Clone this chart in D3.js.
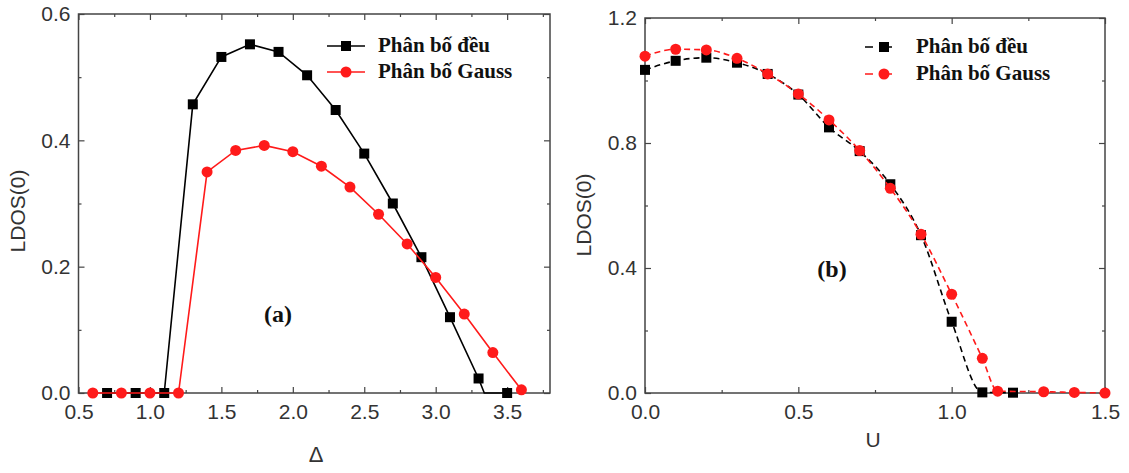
<!DOCTYPE html>
<html>
<head>
<meta charset="utf-8">
<script src="https://cdn.jsdelivr.net/npm/d3@7"></script>
<style>
  body { margin: 0; background: #fff; }
  svg { display: block; }
  .tick text { font-family: Arial, "Liberation Sans", sans-serif; font-size: 21px; fill: #333; }
  .axis path, .axis line { stroke: #444; }
  .axisText { font-family: Arial, "Liberation Sans", sans-serif; font-size: 21px; fill: #333; }
  .legendText { font-family: "Liberation Serif", "Times New Roman", serif; font-weight: bold; font-size: 21px; fill: #111; }
</style>
</head>
<body>
<div id="chart"></div>
<script>
// panel (a): LDOS(0) vs Delta
var deltaUniform = [0.7, 0.9, 1.1, 1.3, 1.5, 1.7, 1.9, 2.1, 2.3, 2.5, 2.7, 2.9, 3.1, 3.3, 3.34, 3.5];
var ldosUniformA = [0, 0, 0, 0.457, 0.532, 0.552, 0.540, 0.503, 0.448, 0.379, 0.300, 0.215, 0.120, 0.023, 0.0, 0.0];
var uniformMarkersA = [true, true, true, true, true, true, true, true, true, true, true, true, true, true, false, true];

var deltaGauss = [0.6, 0.8, 1.0, 1.2, 1.4, 1.6, 1.8, 2.0, 2.2, 2.4, 2.6, 2.8, 3.0, 3.2, 3.4, 3.6];
var ldosGaussA = [0, 0, 0, 0, 0.350, 0.384, 0.392, 0.382, 0.359, 0.326, 0.283, 0.236, 0.183, 0.125, 0.064, 0.005];

// panel (b): LDOS(0) vs U
var uUniform = [0.0, 0.1, 0.2, 0.3, 0.4, 0.5, 0.6, 0.7, 0.8, 0.9, 1.0, 1.1, 1.2];
var ldosUniformB = [1.034, 1.063, 1.073, 1.057, 1.021, 0.955, 0.850, 0.774, 0.668, 0.505, 0.228, 0.002, 0.001];

var uGauss = [0.0, 0.1, 0.2, 0.3, 0.4, 0.5, 0.6, 0.7, 0.8, 0.9, 1.0, 1.1, 1.15, 1.3, 1.4, 1.5];
var ldosGaussB = [1.078, 1.100, 1.098, 1.071, 1.021, 0.957, 0.874, 0.776, 0.655, 0.508, 0.316, 0.111, 0.006, 0.004, 0.002, 0.0];

var legendLabels = ["Phân bố đều", "Phân bố Gauss"];

var xTicksA = [0.5, 1.0, 1.5, 2.0, 2.5, 3.0, 3.5];
var xMinorA = [0.75, 1.25, 1.75, 2.25, 2.75, 3.25, 3.75];
var yTicksA = [0.0, 0.2, 0.4, 0.6];
var yMinorA = [0.1, 0.3, 0.5];

var xTicksB = [0.0, 0.5, 1.0, 1.5];
var xMinorB = [0.25, 0.75, 1.25];
var yTicksB = [0.0, 0.4, 0.8, 1.2];
var yMinorB = [0.2, 0.6, 1.0];

var svgWidth = 1129;
var svgHeight = 473;

var svg = d3.select("#chart")
    .append("svg")
    .attr("width", svgWidth)
    .attr("height", svgHeight);

function drawPanel(p) {
    var x = d3.scaleLinear().domain(p.xDomain).range([p.left, p.right]);
    var y = d3.scaleLinear().domain(p.yDomain).range([p.bottom, p.top]);
    var g = svg.append("g");

    // major + minor ticks on all four sides, pointing inward
    g.append("g").attr("class", "axis")
        .attr("transform", `translate(0,${p.bottom})`)
        .call(d3.axisBottom(x).tickValues(p.xTicks).tickFormat(d3.format(".1f"))
            .tickSizeInner(-6).tickSizeOuter(0).tickPadding(11));
    g.append("g").attr("class", "axis")
        .attr("transform", `translate(0,${p.bottom})`)
        .call(d3.axisBottom(x).tickValues(p.xMinor).tickFormat("").tickSizeInner(-3).tickSizeOuter(0));
    g.append("g").attr("class", "axis")
        .attr("transform", `translate(0,${p.top})`)
        .call(d3.axisTop(x).tickValues(p.xTicks).tickFormat("").tickSizeInner(-6).tickSizeOuter(0));
    g.append("g").attr("class", "axis")
        .attr("transform", `translate(0,${p.top})`)
        .call(d3.axisTop(x).tickValues(p.xMinor).tickFormat("").tickSizeInner(-3).tickSizeOuter(0));

    g.append("g").attr("class", "axis")
        .attr("transform", `translate(${p.left},0)`)
        .call(d3.axisLeft(y).tickValues(p.yTicks).tickFormat(d3.format(".1f"))
            .tickSizeInner(-6).tickSizeOuter(0).tickPadding(8));
    g.append("g").attr("class", "axis")
        .attr("transform", `translate(${p.left},0)`)
        .call(d3.axisLeft(y).tickValues(p.yMinor).tickFormat("").tickSizeInner(-3).tickSizeOuter(0));
    g.append("g").attr("class", "axis")
        .attr("transform", `translate(${p.right},0)`)
        .call(d3.axisRight(y).tickValues(p.yTicks).tickFormat("").tickSizeInner(-6).tickSizeOuter(0));
    g.append("g").attr("class", "axis")
        .attr("transform", `translate(${p.right},0)`)
        .call(d3.axisRight(y).tickValues(p.yMinor).tickFormat("").tickSizeInner(-3).tickSizeOuter(0));

    g.selectAll(".axis .domain").remove();
    g.selectAll(".axis line").attr("stroke-width", 1.2);

    // frame
    g.append("rect")
        .attr("x", p.left).attr("y", p.top)
        .attr("width", p.right - p.left).attr("height", p.bottom - p.top)
        .attr("fill", "none").attr("stroke", "#444").attr("stroke-width", 1.5);

    var line = d3.line()
        .x(d => x(d[0]))
        .y(d => y(d[1]))
        .curve(p.curve);

    p.series.forEach(function(s) {
        var pts = d3.zip(s.xs, s.ys);
        g.append("path")
            .datum(pts)
            .attr("fill", "none")
            .attr("stroke", s.color)
            .attr("stroke-width", 1.6)
            .attr("stroke-dasharray", p.dash)
            .attr("d", line);

        var marked = pts.filter((d, i) => !s.markers || s.markers[i]);
        if (s.shape === "square") {
            g.selectAll(null).data(marked).enter().append("rect")
                .attr("x", d => x(d[0]) - 5)
                .attr("y", d => y(d[1]) - 5)
                .attr("width", 10).attr("height", 10)
                .attr("fill", s.color);
        } else {
            g.selectAll(null).data(marked).enter().append("circle")
                .attr("cx", d => x(d[0]))
                .attr("cy", d => y(d[1]))
                .attr("r", 5.5)
                .attr("fill", s.color);
        }
    });

    // legend
    p.series.forEach(function(s, i) {
        var ly = p.legendY + i * p.legendGap;
        g.append("line")
            .attr("x1", p.legendX - 19).attr("x2", p.legendX + 19)
            .attr("y1", ly).attr("y2", ly)
            .attr("stroke", s.color).attr("stroke-width", 1.6)
            .attr("stroke-dasharray", p.legendDash);
        if (s.shape === "square") {
            g.append("rect").attr("x", p.legendX - 5).attr("y", ly - 5)
                .attr("width", 10).attr("height", 10).attr("fill", s.color);
        } else {
            g.append("circle").attr("cx", p.legendX).attr("cy", ly).attr("r", 5.5).attr("fill", s.color);
        }
        g.append("text")
            .attr("class", "legendText")
            .attr("x", p.legendX + 32)
            .attr("y", ly + 6)
            .text(legendLabels[i]);
    });

    g.append("text")
        .attr("class", "legendText")
        .style("font-size", "24px")
        .attr("x", p.tagX).attr("y", p.tagY)
        .attr("text-anchor", "middle")
        .text(p.tag);

    g.append("text")
        .attr("class", "axisText")
        .attr("transform", `translate(${p.yLabelX},${p.yLabelY}) rotate(-90)`)
        .attr("text-anchor", "middle")
        .text("LDOS(0)");

    g.append("text")
        .attr("class", "axisText")
        .style("font-size", p.xLabelSize)
        .attr("x", p.xLabelX)
        .attr("y", p.xLabelY)
        .attr("text-anchor", "middle")
        .text(p.xLabel);
}

drawPanel({
    left: 78.5, right: 550, top: 14, bottom: 393,
    xDomain: [0.5, 3.8], yDomain: [0, 0.6],
    xTicks: xTicksA, xMinor: xMinorA, yTicks: yTicksA, yMinor: yMinorA,
    curve: d3.curveLinear, dash: null, legendDash: null,
    series: [
        { xs: deltaUniform, ys: ldosUniformA, color: "#000", shape: "square", markers: uniformMarkersA },
        { xs: deltaGauss, ys: ldosGaussA, color: "#ff1a1a", shape: "circle" }
    ],
    legendX: 346, legendY: 46, legendGap: 26,
    tag: "(a)", tagX: 278, tagY: 322,
    yLabelX: 25, yLabelY: 211, xLabel: "Δ", xLabelX: 316, xLabelY: 462, xLabelSize: "22px"
});

drawPanel({
    left: 645, right: 1105, top: 18, bottom: 393,
    xDomain: [0, 1.5], yDomain: [0, 1.2],
    xTicks: xTicksB, xMinor: xMinorB, yTicks: yTicksB, yMinor: yMinorB,
    curve: d3.curveMonotoneX, dash: "6,4", legendDash: "8,11",
    series: [
        { xs: uUniform, ys: ldosUniformB, color: "#000", shape: "square" },
        { xs: uGauss, ys: ldosGaussB, color: "#ff1a1a", shape: "circle" }
    ],
    legendX: 884, legendY: 47, legendGap: 27,
    tag: "(b)", tagX: 832, tagY: 277,
    yLabelX: 591, yLabelY: 215, xLabel: "U", xLabelX: 873, xLabelY: 447, xLabelSize: "21px"
});
</script>
</body>
</html>
